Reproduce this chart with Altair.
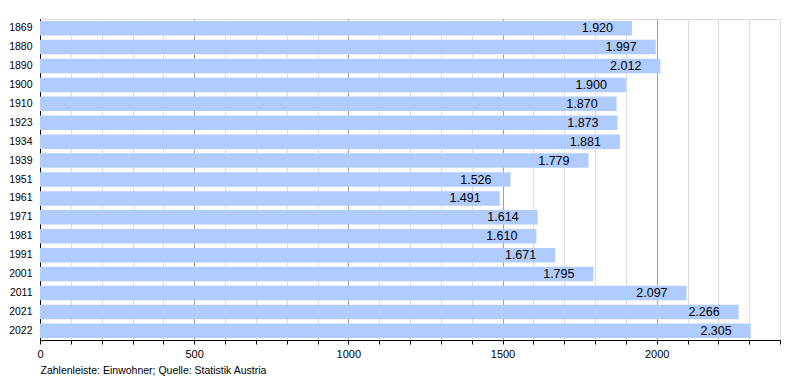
import altair as alt
import pandas as pd

years = ["1869", "1880", "1890", "1900", "1910", "1923", "1934", "1939", "1951",
         "1961", "1971", "1981", "1991", "2001", "2011", "2021", "2022"]
population = [1920, 1997, 2012, 1900, 1870, 1873, 1881, 1779, 1526,
              1491, 1614, 1610, 1671, 1795, 2097, 2266, 2305]
labels = ["1.920", "1.997", "2.012", "1.900", "1.870", "1.873", "1.881", "1.779", "1.526",
          "1.491", "1.614", "1.610", "1.671", "1.795", "2.097", "2.266", "2.305"]
tick_values = list(range(0, 2401, 100))

df = pd.DataFrame({"year": years, "pop": population, "label": labels})

FONT = "Liberation Sans"

x = alt.X(
    "pop:Q",
    scale=alt.Scale(domain=[0, 2400], nice=False, zero=True),
    axis=alt.Axis(
        values=tick_values,
        labelExpr="datum.value % 500 === 0 ? datum.value : ''",
        title="Zahlenleiste: Einwohner; Quelle: Statistik Austria",
        titleAnchor="start",
        titleAlign="left",
        titleX=0,
        titleY=25,
        titleFontWeight="normal",
        titleFontSize=10.5,
        titleFont=FONT,
        titleColor="#000",
        labelFont=FONT,
        labelFontSize=11,
        labelColor="#000",
        labelPadding=4,
        tickColor="#000",
        tickSize=4,
        domainColor="#000",
        gridColor=alt.condition("datum.value % 500 === 0", alt.value("#a0a0a0"), alt.value("#dcdcdc")),
        labelFlush=False,
        labelOverlap=False,
    ),
)

y = alt.Y(
    "year:N",
    sort=years,
    scale=alt.Scale(paddingInner=0.23, paddingOuter=0.1),
    axis=alt.Axis(
        title=None,
        ticks=False,
        grid=False,
        labelFont=FONT,
        labelFontSize=10.5,
        labelColor="#000",
        labelPadding=8,
        domainColor="#000",
    ),
)

bars = alt.Chart(df).mark_bar(color="#B0CCFF").encode(x=x, y=y)

text = alt.Chart(df).mark_text(
    align="right", baseline="middle", dx=-19, font=FONT, fontSize=12.5, color="#000"
).encode(x=x, y=y, text="label:N")

chart = (
    alt.layer(bars, text)
    .properties(
        width=740,
        height=321,
        padding={"left": 32, "top": 11, "right": 10, "bottom": 40},
        autosize=alt.AutoSizeParams(type="none"),
    )
    .configure_view(stroke=None)
    .configure(background="white")
)

chart.save("out.html", embed_options={"renderer": "svg", "actions": False})
